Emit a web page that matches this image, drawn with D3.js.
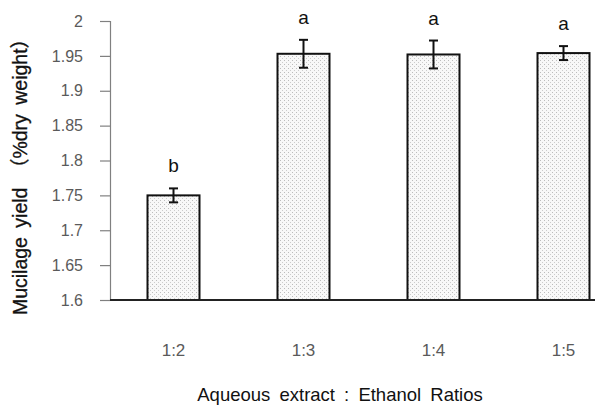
<!DOCTYPE html>
<html>
<head>
<meta charset="utf-8">
<script src="https://cdn.jsdelivr.net/npm/d3@7/dist/d3.min.js"></script>
<style>
  html, body { margin: 0; padding: 0; background: #fff; }
  svg { display: block; font-family: "Liberation Sans", Arial, "Noto Sans CJK SC", sans-serif; }
</style>
</head>
<body>
<svg id="chart" width="595" height="408"></svg>
<script>
// Mucilage yield by aqueous extract : ethanol ratio
const categories = ["1:2", "1:3", "1:4", "1:5"];
const yieldMean = [1.75, 1.953, 1.952, 1.954];
const yieldErr = [0.01, 0.02, 0.02, 0.01];
const groupLetters = ["b", "a", "a", "a"];
const yTicks = [1.6, 1.65, 1.7, 1.75, 1.8, 1.85, 1.9, 1.95, 2];
const yTickLabels = ["1.6", "1.65", "1.7", "1.75", "1.8", "1.85", "1.9", "1.95", "2"];

const svg = d3.select("#chart");

const axisX0 = 110;
const y = d3.scaleLinear().domain([1.6, 2]).range([300, 21]);
const x = d3.scaleBand().domain(categories).range([108.5, 628.5])
  .paddingInner(0.6).paddingOuter(0.3);

// stipple fill for the bars
const defs = svg.append("defs");
const pat = defs.append("pattern")
  .attr("id", "stipple").attr("patternUnits", "userSpaceOnUse")
  .attr("width", 4).attr("height", 4);
pat.append("rect").attr("width", 4).attr("height", 4).attr("fill", "#f8f8f8");
pat.append("rect").attr("x", 0).attr("y", 0).attr("width", 1).attr("height", 1).attr("fill", "#bcbcbc");
pat.append("rect").attr("x", 2).attr("y", 2).attr("width", 1).attr("height", 1).attr("fill", "#cccccc");

// y axis
const yAxis = d3.axisLeft(y)
  .tickValues(yTicks)
  .tickFormat((d, i) => yTickLabels[i])
  .tickSize(10).tickPadding(17);
const gy = svg.append("g").attr("transform", `translate(${axisX0},0)`).call(yAxis);
gy.select(".domain").attr("stroke", "#808080").attr("stroke-width", 1.2);
gy.selectAll(".tick line").attr("stroke", "#808080").attr("stroke-width", 1.2);
gy.selectAll(".tick text").attr("fill", "#5a5a5a").attr("font-size", 16)
  .attr("font-family", "'Liberation Sans', Arial, sans-serif");

// bars
svg.append("g").selectAll("rect.bar").data(categories).join("rect")
  .attr("class", "bar")
  .attr("x", d => x(d))
  .attr("y", (d, i) => y(yieldMean[i]))
  .attr("width", x.bandwidth())
  .attr("height", (d, i) => y(1.6) - y(yieldMean[i]))
  .attr("fill", "url(#stipple)")
  .attr("stroke", "#111").attr("stroke-width", 2);

// x axis (baseline + category labels)
const xAxis = d3.axisBottom(x).tickSize(0).tickPadding(44);
const gx = svg.append("g").attr("transform", `translate(0,${y(1.6)})`).call(xAxis);
gx.select(".domain").remove();
gx.selectAll(".tick text").attr("fill", "#5a5a5a").attr("font-size", 17)
  .attr("font-family", "'Liberation Sans', Arial, sans-serif");
svg.append("line")
  .attr("x1", axisX0).attr("x2", 595)
  .attr("y1", y(1.6)).attr("y2", y(1.6))
  .attr("stroke", "#222").attr("stroke-width", 1.8);

// error bars
const cap = 4.5;
const eb = svg.append("g").attr("stroke", "#111").attr("stroke-width", 2);
categories.forEach((c, i) => {
  const cx = x(c) + x.bandwidth() / 2;
  const hi = y(yieldMean[i] + yieldErr[i]);
  const lo = y(yieldMean[i] - yieldErr[i]);
  eb.append("line").attr("x1", cx).attr("x2", cx).attr("y1", hi).attr("y2", lo);
  eb.append("line").attr("x1", cx - cap).attr("x2", cx + cap).attr("y1", hi).attr("y2", hi);
  eb.append("line").attr("x1", cx - cap).attr("x2", cx + cap).attr("y1", lo).attr("y2", lo);
});

// significance letters
svg.append("g").selectAll("text").data(categories).join("text")
  .attr("x", d => x(d) + x.bandwidth() / 2)
  .attr("y", (d, i) => y(yieldMean[i] + yieldErr[i]) - 16)
  .attr("text-anchor", "middle")
  .attr("font-size", 19)
  .attr("fill", "#111")
  .text((d, i) => groupLetters[i]);

// axis titles
svg.append("text")
  .attr("x", 340).attr("y", 401)
  .attr("text-anchor", "middle")
  .attr("font-size", 18.5)
  .attr("word-spacing", 4)
  .attr("fill", "#111")
  .text("Aqueous extract : Ethanol Ratios");

svg.append("text")
  .attr("transform", "translate(27,172) rotate(-90)")
  .attr("text-anchor", "middle")
  .attr("font-size", 19.5)
  .attr("word-spacing", 4)
  .attr("fill", "#111")
  .attr("stroke", "#111").attr("stroke-width", 0.3)
  .text("Mucilage yield （%dry weight）");
</script>
</body>
</html>
